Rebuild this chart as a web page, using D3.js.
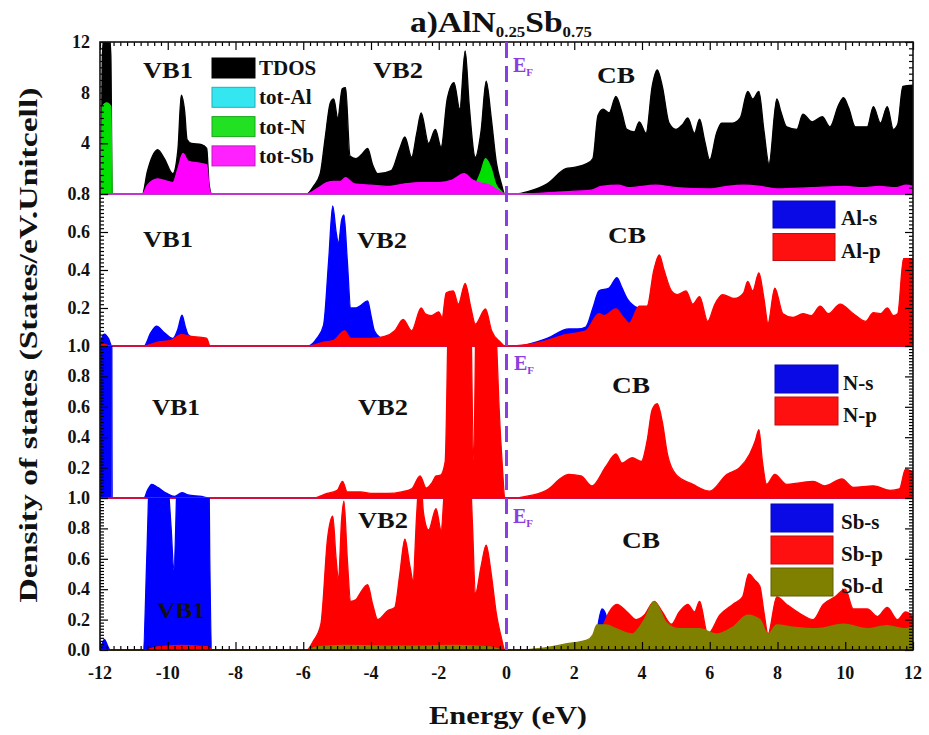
<!DOCTYPE html>
<html>
<head>
<meta charset="utf-8">
<script src="https://cdn.jsdelivr.net/npm/d3@7"></script>
<style>
  body { margin: 0; background: #fff; }
  text { font-family: "Liberation Serif", "Times New Roman", serif; font-weight: bold; }
</style>
</head>
<body>
<svg id="chart" width="929" height="735"></svg>
<script>
// ---------- Data: [energy (eV), DOS] pairs ----------
const xTickValues = [-12, -10, -8, -6, -4, -2, 0, 2, 4, 6, 8, 10, 12];

// Panel 1: total DOS and per-atom totals
const tdos = [[-12,0],[-11.97,0],[-11.93,11],[-11.85,13],[-11.75,13],[-11.68,11],[-11.64,0],
  [-10.75,0],[-10.6,1.8],[-10.45,3.0],[-10.3,3.5],[-10.1,2.8],[-9.85,1.6],[-9.7,3.5],[-9.6,7.8],[-9.5,6.5],[-9.43,4.3],[-9.3,4.0],[-9.0,3.9],[-8.85,3.6],[-8.78,0.8],[-8.7,0],
  [-5.9,0],[-5.7,0.6],[-5.5,1.6],[-5.35,4.5],[-5.2,7.2],[-5.1,7.5],[-4.98,6.0],[-4.85,8.3],[-4.75,8.4],[-4.62,3.0],[-4.45,2.8],[-4.25,3.2],[-4.1,3.6],[-3.95,2.3],[-3.8,1.6],[-3.4,1.85],[-3.15,3.6],[-3.0,4.5],[-2.8,2.9],[-2.65,4.8],[-2.52,6.4],[-2.3,4.0],[-2.1,5.1],[-1.93,3.7],[-1.75,7.5],[-1.55,8.8],[-1.38,6.7],[-1.22,11.3],[-1.1,7],[-0.92,2.9],[-0.75,5],[-0.6,8.9],[-0.45,6],[-0.3,2.5],[-0.15,0.8],[-0.05,0],
  [0.3,0],[0.65,0.2],[1.2,0.8],[1.75,2.0],[2.0,2.1],[2.37,2.4],[2.55,2.8],[2.7,6.2],[2.85,6.7],[3.03,6.4],[3.23,7.7],[3.4,6.5],[3.55,5.1],[3.77,4.9],[3.92,5.7],[4.12,4.8],[4.3,8.5],[4.45,9.8],[4.6,8.5],[4.8,5.6],[5.0,5.1],[5.2,5.5],[5.35,6.0],[5.55,4.8],[5.7,5.9],[5.85,4.2],[6.0,2.7],[6.2,4.8],[6.35,5.6],[6.68,5.6],[6.9,6],[7.12,8.1],[7.27,7.5],[7.45,8.1],[7.6,5],[7.75,2.4],[7.98,7.5],[8.1,6.5],[8.27,5.3],[8.57,5.1],[8.75,6.3],[9.02,5.7],[9.32,6.1],[9.55,5.3],[9.8,7.0],[9.95,7.6],[10.1,6.8],[10.3,5.3],[10.65,5.3],[10.83,6.9],[11.04,5.6],[11.24,6.9],[11.42,5.1],[11.55,5.5],[11.7,8.5],[12,8.6]];

const totAl = [[-12,0],[-11.85,0.1],[-11.65,0],[-10.6,0],[-10.3,0.2],[-9.6,0.3],[-8.8,0],
  [-5.8,0],[-5.1,0.6],[-4.8,0.7],[-4.3,0.3],[-3,0.3],[-1.2,0.4],[-0.05,0],
  [0.5,0],[2.5,0.1],[3.2,0.3],[4.45,0.3],[6,0.2],[9,0.25],[12,0.2]];

const totN = [[-12,0],[-11.97,0],[-11.93,6.9],[-11.8,7.2],[-11.68,6.9],[-11.64,0],
  [-10.6,0],[-10.3,0.15],[-9.6,0.1],[-8.8,0],
  [-5.8,0],[-4.8,0.2],[-3,0.2],[-1.5,0.6],[-1.25,1.3],[-1.0,0.7],[-0.9,0.9],[-0.75,1.8],[-0.62,2.8],[-0.45,2.0],[-0.32,0.8],[-0.15,0.2],[-0.05,0],
  [0.5,0],[4.45,0.35],[7.45,0.25],[12,0.1]];

const totSb = [[-12,0],[-10.75,0],[-10.6,0.7],[-10.3,1.2],[-10.0,1.0],[-9.85,0.9],[-9.7,2.0],[-9.55,3.2],[-9.4,2.6],[-9.0,2.4],[-8.85,2.3],[-8.78,0.5],[-8.7,0],
  [-5.9,0],[-5.6,0.4],[-5.3,0.9],[-5.1,1.0],[-4.9,1.0],[-4.75,1.3],[-4.5,0.8],[-4,0.7],[-3.5,0.6],[-3,0.8],[-2.5,0.9],[-2,0.9],[-1.6,1.1],[-1.25,1.6],[-1.0,1.1],[-0.8,0.9],[-0.5,0.7],[-0.25,0.3],[-0.05,0],
  [0.5,0],[1.5,0.15],[2.5,0.3],[2.8,0.6],[3.3,0.7],[3.6,0.5],[4.4,0.7],[5,0.5],[6,0.4],[6.5,0.6],[7,0.7],[7.5,0.6],[8,0.4],[9,0.5],[10,0.6],[10.5,0.5],[11,0.6],[11.5,0.5],[11.8,0.7],[12,0.6]];

// Panel 2: Al partial DOS
const alS = [[-12,0],[-11.97,0.03],[-11.87,0.063],[-11.75,0.04],[-11.65,0],
  [-10.7,0],[-10.5,0.07],[-10.33,0.105],[-10.1,0.07],[-9.85,0.04],[-9.7,0.09],[-9.58,0.163],[-9.48,0.1],[-9.4,0.06],[-9.2,0.04],[-9.0,0.02],[-8.8,0],
  [-5.85,0],[-5.6,0.04],[-5.4,0.11],[-5.25,0.45],[-5.13,0.737],[-5.03,0.6],[-4.96,0.54],[-4.87,0.66],[-4.8,0.69],[-4.7,0.45],[-4.6,0.2],[-4.45,0.2],[-4.33,0.21],[-4.1,0.237],[-4.0,0.16],[-3.9,0.08],[-3.7,0.04],[-3.5,0.016],[-3.3,0],
  [0.3,0],[1.2,0.04],[1.84,0.09],[2.1,0.09],[2.34,0.1],[2.55,0.2],[2.73,0.29],[3.03,0.305],[3.26,0.36],[3.4,0.31],[3.56,0.25],[3.77,0.21],[3.95,0.19],[4.1,0.05],[4.5,0],[12,0]];

const alP = [[-12,0],[-11.9,0.01],[-11.7,0],
  [-10.7,0],[-10.3,0.02],[-9.9,0.03],[-9.6,0.06],[-9.3,0.05],[-9.0,0.045],[-8.85,0.04],[-8.75,0],
  [-5.85,0],[-5.4,0.02],[-5.1,0.03],[-4.78,0.08],[-4.6,0.04],[-4.0,0.04],[-3.6,0.05],[-3.3,0.08],[-3.05,0.14],[-2.8,0.08],[-2.52,0.2],[-2.4,0.17],[-2.22,0.16],[-2.0,0.18],[-1.9,0.15],[-1.78,0.28],[-1.57,0.29],[-1.42,0.22],[-1.22,0.33],[-1.05,0.2],[-0.92,0.115],[-0.62,0.195],[-0.44,0.08],[-0.18,0.02],[-0.05,0],
  [0.1,0],[1.0,0.02],[1.75,0.06],[2.34,0.08],[2.73,0.17],[2.88,0.16],[3.23,0.195],[3.45,0.15],[3.62,0.12],[3.92,0.21],[4.15,0.21],[4.35,0.4],[4.51,0.48],[4.65,0.4],[4.87,0.29],[5.04,0.27],[5.3,0.29],[5.5,0.22],[5.7,0.26],[5.94,0.13],[6.15,0.22],[6.38,0.27],[6.73,0.25],[7.0,0.28],[7.12,0.34],[7.27,0.29],[7.45,0.385],[7.6,0.25],[7.72,0.12],[7.92,0.305],[8.16,0.17],[8.46,0.15],[8.75,0.17],[9.0,0.16],[9.26,0.21],[9.5,0.17],[9.85,0.22],[10.24,0.17],[10.6,0.13],[10.83,0.175],[11.04,0.17],[11.24,0.2],[11.42,0.16],[11.55,0.17],[11.72,0.46],[12,0.46]];

// Panel 3: N partial DOS
const nS = [[-12,0],[-11.99,7],[-11.9,7.2],[-11.75,7],[-11.68,6],[-11.64,0],
  [-10.7,0],[-10.6,0.05],[-10.47,0.09],[-10.3,0.07],[-10.03,0.03],[-9.8,0.01],[-9.58,0.035],[-9.4,0.02],[-9.0,0.01],[-8.8,0],[12,0]];

const nP = [[-12,0],[-5.7,0],[-5.3,0.03],[-5.0,0.05],[-4.84,0.11],[-4.7,0.04],[-4.3,0.04],[-4.0,0.03],[-3.5,0.03],[-3.1,0.04],[-2.8,0.06],[-2.55,0.145],[-2.37,0.065],[-2.2,0.1],[-2.08,0.145],[-1.95,0.15],[-1.81,0.24],[-1.72,1.2],[-1.55,2.0],[-1.3,2.2],[-1.08,1.6],[-0.97,0.25],[-0.88,1.6],[-0.75,2.2],[-0.6,2.8],[-0.45,2.0],[-0.32,1.2],[-0.22,0.6],[-0.12,0.2],[-0.05,0],
  [0.1,0],[0.8,0.02],[1.25,0.06],[1.6,0.13],[1.84,0.155],[2.2,0.145],[2.52,0.08],[2.94,0.21],[3.23,0.29],[3.41,0.23],[3.71,0.265],[3.98,0.24],[4.15,0.375],[4.3,0.58],[4.45,0.62],[4.6,0.5],[4.75,0.29],[5.0,0.155],[5.5,0.09],[6.0,0.045],[6.5,0.155],[6.88,0.2],[7.18,0.29],[7.35,0.38],[7.45,0.45],[7.55,0.25],[7.68,0.09],[7.92,0.155],[8.27,0.09],[8.66,0.1],[9.05,0.11],[9.4,0.08],[9.9,0.125],[10.24,0.07],[10.83,0.08],[11.33,0.05],[11.6,0.06],[11.78,0.19],[12,0.17]];

// Panel 4: Sb partial DOS
const sbS = [[-12,0],[-11.95,0.03],[-11.87,0.07],[-11.78,0.03],[-11.7,0],
  [-10.72,0],[-10.62,0.6],[-10.5,1.5],[-10.3,2.0],[-10.05,1.3],[-9.9,0.8],[-9.82,0.53],[-9.72,1.2],[-9.55,3.0],[-9.3,2.4],[-9.0,2.2],[-8.82,2.0],[-8.76,0.6],[-8.7,0],
  [2.55,0],[2.65,0.1],[2.82,0.27],[2.95,0.22],[3.05,0],[12,0]];

const sbP = [[-12,0],[-10.7,0],[-10.3,0.02],[-9.6,0.03],[-8.8,0.02],[-8.7,0],
  [-5.9,0],[-5.7,0.06],[-5.48,0.17],[-5.28,0.74],[-5.13,0.88],[-5.03,0.6],[-4.96,0.46],[-4.87,0.85],[-4.8,0.98],[-4.7,0.6],[-4.6,0.32],[-4.45,0.33],[-4.33,0.37],[-4.1,0.43],[-3.95,0.3],[-3.8,0.2],[-3.5,0.26],[-3.3,0.28],[-3.15,0.5],[-3.0,0.73],[-2.85,0.55],[-2.76,0.46],[-2.65,0.9],[-2.55,1.2],[-2.45,0.9],[-2.3,0.79],[-2.08,0.93],[-1.93,0.79],[-1.82,1.1],[-1.6,1.4],[-1.3,1.5],[-1.1,1.3],[-1.0,0.8],[-0.92,0.37],[-0.75,0.55],[-0.6,0.69],[-0.45,0.5],[-0.3,0.24],[-0.15,0.08],[-0.05,0],
  [0.1,0],[2.6,0],[2.75,0.12],[2.85,0.16],[3.03,0.25],[3.26,0.3],[3.56,0.25],[3.83,0.2],[4.07,0.23],[4.36,0.32],[4.6,0.25],[4.87,0.17],[5.1,0.25],[5.35,0.3],[5.55,0.25],[5.7,0.32],[5.94,0.105],[6.3,0.23],[6.68,0.3],[6.97,0.35],[7.15,0.5],[7.33,0.46],[7.48,0.42],[7.6,0.25],[7.72,0.105],[7.98,0.35],[8.27,0.3],[8.66,0.24],[9.05,0.2],[9.35,0.3],[9.7,0.35],[10.0,0.4],[10.24,0.27],[10.65,0.27],[10.95,0.22],[11.24,0.28],[11.54,0.2],[11.78,0.25],[12,0.22]];

const sbD = [[-12,0],[-5.9,0],[-5.6,0.02],[-4.8,0.03],[-3,0.025],[-1.5,0.03],[-0.5,0.02],[-0.05,0],
  [0.3,0],[1.0,0.01],[1.75,0.04],[2.37,0.065],[2.55,0.1],[2.67,0.165],[2.94,0.165],[3.23,0.14],[3.71,0.105],[4.07,0.2],[4.36,0.32],[4.72,0.18],[5.1,0.14],[5.7,0.14],[6.2,0.105],[6.68,0.15],[7.12,0.23],[7.48,0.2],[7.72,0.105],[7.98,0.165],[8.46,0.15],[9.17,0.14],[9.95,0.17],[10.65,0.14],[11.24,0.16],[11.72,0.14],[12,0.15]];

// ---------- Layout ----------
const svg = d3.select("#chart");
const plotL = 100, plotR = 913, plotT = 42, panelH = 152;
const x = d3.scaleLinear().domain([-12, 12]).range([plotL, plotR]);
const purple = "#8a3ee0";

const panels = [
  { ymax: 12, major: 4, minor: 0.5, labels: [4, 8, 12], fmt: d => String(d),
    series: [[tdos, "#000000"], [totAl, "#00e5ee"], [totN, "#00e000"], [totSb, "#ff00ff"]],
    legend: { x: 212, y: 58, w: 43, h: 20, step: 29.3, tx: 259, names: ["TDOS", "tot-Al", "tot-N", "tot-Sb"],
              colors: ["#000000", "#33e6f0", "#22e022", "#ff22ff"] },
    bands: [["VB1", 168, 78, 50], ["VB2", 398, 78, 50], ["CB", 616, 83, 38]], ef: [513, 72] },
  { ymax: 0.8, major: 0.2, minor: 0.02, labels: [0.2, 0.4, 0.6, 0.8], fmt: d3.format(".1f"),
    series: [[alS, "#0000ff"], [alP, "#ff0000"]],
    legend: { x: 773, y: 201, w: 62, h: 27, step: 32.5, tx: 841, names: ["Al-s", "Al-p"], colors: ["#0a0ae6", "#ff1010"] },
    bands: [["VB1", 168, 247, 50], ["VB2", 382, 248, 50], ["CB", 627, 243, 38]], ef: null },
  { ymax: 1.0, major: 0.2, minor: 0.02, labels: [0.2, 0.4, 0.6, 0.8, 1.0], fmt: d3.format(".1f"),
    series: [[nS, "#0000ff"], [nP, "#ff0000"]],
    legend: { x: 775, y: 365, w: 63, h: 28, step: 32, tx: 843, names: ["N-s", "N-p"], colors: ["#0a0ae6", "#ff1010"] },
    bands: [["VB1", 176, 415, 48], ["VB2", 383, 415, 50], ["CB", 631, 393, 38]], ef: [514, 370] },
  { ymax: 1.0, major: 0.2, minor: 0.02, labels: [0, 0.2, 0.4, 0.6, 0.8, 1.0], fmt: d3.format(".1f"),
    series: [[sbS, "#0000ff"], [sbP, "#ff0000"], [sbD, "#808000"]],
    legend: { x: 771, y: 504, w: 62, h: 28, step: 32, tx: 841, names: ["Sb-s", "Sb-p", "Sb-d"], colors: ["#0a0ae6", "#ff1010", "#808000"] },
    bands: [["VB2", 383, 528, 50], ["CB", 641, 548, 38], ["VB1", 181, 618, 48]], ef: [513, 523] }
];

const defs = svg.append("defs");

panels.forEach((p, i) => {
  const top = plotT + i * panelH, bot = top + panelH;
  const y = d3.scaleLinear().domain([0, p.ymax]).range([bot, top]);
  const g = svg.append("g");

  defs.append("clipPath").attr("id", "clip" + i)
    .append("rect").attr("x", plotL).attr("y", top).attr("width", plotR - plotL).attr("height", panelH + 1);

  const area = d3.area()
    .x(d => x(d[0])).y0(y(0)).y1(d => y(d[1]))
    .curve(d3.curveMonotoneX);

  const ga = g.append("g").attr("clip-path", `url(#clip${i})`);
  p.series.forEach(([data, col]) => {
    ga.append("path").datum(data).attr("d", area)
      .attr("fill", col).attr("stroke", col).attr("stroke-width", 1.3).attr("stroke-linejoin", "round");
  });

  // left / right axes with inward ticks
  const minorVals = d3.range(0, p.ymax + 1e-9, p.minor).filter(v => Math.abs(v / p.major - Math.round(v / p.major)) > 1e-6);
  const majorVals = d3.range(0, p.ymax + 1e-9, p.major);
  const left = g.append("g").attr("transform", `translate(${plotL},0)`);
  left.call(d3.axisLeft(y).tickValues(minorVals).tickSize(-4).tickFormat(""));
  left.append("g").call(d3.axisLeft(y).tickValues(majorVals).tickSize(-8).tickFormat(""));
  const right = g.append("g").attr("transform", `translate(${plotR},0)`);
  right.call(d3.axisRight(y).tickValues(minorVals).tickSize(-4).tickFormat(""));
  right.append("g").call(d3.axisRight(y).tickValues(majorVals).tickSize(-8).tickFormat(""));
  g.selectAll(".domain").remove();
  g.selectAll(".tick line").attr("stroke", "#000").attr("stroke-width", 1.2);

  // tick labels
  g.selectAll("text.ylab").data(p.labels).enter().append("text")
    .attr("class", "ylab")
    .attr("x", 90).attr("y", d => y(d) + 6)
    .attr("text-anchor", "end").attr("font-size", 18).attr("fill", "#111")
    .text(p.fmt);

  // band labels
  p.bands.forEach(([t, cx, by, len]) => {
    g.append("text").attr("x", cx).attr("y", by).attr("text-anchor", "middle")
      .attr("font-size", 23).attr("fill", "#111")
      .attr("textLength", len).attr("lengthAdjust", "spacingAndGlyphs").text(t);
  });

  // legend
  const L = p.legend;
  L.names.forEach((nm, k) => {
    g.append("rect").attr("x", L.x).attr("y", L.y + k * L.step).attr("width", L.w).attr("height", L.h)
      .attr("fill", L.colors[k]).attr("stroke", d3.color(L.colors[k]).darker(0.8)).attr("stroke-width", 1);
    g.append("text").attr("x", L.tx).attr("y", L.y + k * L.step + L.h - 3)
      .attr("font-size", 21).attr("fill", "#111").text(nm);
  });

  // Fermi level label
  if (p.ef) {
    const t = g.append("text").attr("x", p.ef[0]).attr("y", p.ef[1]).attr("fill", purple).attr("font-size", 20);
    t.append("tspan").text("E");
    t.append("tspan").attr("font-size", 11).attr("dy", 4).text("F");
  }
});

// top and bottom energy axes (inward ticks)
const xMinor = d3.range(-12, 12.0001, 0.2).filter(v => Math.abs(v / 2 - Math.round(v / 2)) > 1e-6);
const plotB = plotT + 4 * panelH;
const topAx = svg.append("g").attr("transform", `translate(0,${plotT})`);
topAx.call(d3.axisTop(x).tickValues(xMinor).tickSize(-4).tickFormat(""));
topAx.append("g").call(d3.axisTop(x).tickValues(xTickValues).tickSize(-8).tickFormat(""));
const botAx = svg.append("g").attr("transform", `translate(0,${plotB})`);
botAx.call(d3.axisBottom(x).tickValues(xMinor).tickSize(-4).tickFormat(""));
botAx.append("g").call(d3.axisBottom(x).tickValues(xTickValues).tickSize(-8).tickFormat(""));
svg.selectAll(".domain").remove();
topAx.selectAll(".tick line").attr("stroke", "#000").attr("stroke-width", 1.2);
botAx.selectAll(".tick line").attr("stroke", "#000").attr("stroke-width", 1.2);

svg.selectAll("text.xlab").data(xTickValues).enter().append("text")
  .attr("class", "xlab").attr("x", d => x(d)).attr("y", plotB + 29)
  .attr("text-anchor", "middle").attr("font-size", 18).attr("fill", "#111")
  .text(d => String(d));

// outer frame
svg.append("rect").attr("x", plotL).attr("y", plotT).attr("width", plotR - plotL).attr("height", plotB - plotT)
  .attr("fill", "none").attr("stroke", "#111").attr("stroke-width", 1.6);

// Fermi level
svg.append("line").attr("x1", x(0)).attr("x2", x(0)).attr("y1", plotT).attr("y2", plotB)
  .attr("stroke", purple).attr("stroke-width", 3).attr("stroke-dasharray", "16,8");

// axis titles
svg.append("text").attr("x", 508).attr("y", 724).attr("text-anchor", "middle")
  .attr("font-size", 26).attr("fill", "#111")
  .attr("textLength", 158).attr("lengthAdjust", "spacingAndGlyphs").text("Energy (eV)");
svg.append("text").attr("transform", "translate(37,345) rotate(-90)").attr("text-anchor", "middle")
  .attr("font-size", 26).attr("fill", "#111")
  .attr("textLength", 515).attr("lengthAdjust", "spacingAndGlyphs").text("Density of states (States/eV.Unitcell)");

// chart title with subscripts
const title = svg.append("text").attr("x", 410).attr("y", 32).attr("font-size", 30).attr("fill", "#111")
  .attr("textLength", 182).attr("lengthAdjust", "spacingAndGlyphs");
title.append("tspan").text("a)AlN");
title.append("tspan").attr("font-size", 15).attr("dy", 5).text("0.25");
title.append("tspan").attr("dy", -5).text("Sb");
title.append("tspan").attr("font-size", 15).attr("dy", 5).text("0.75");
</script>
</body>
</html>
